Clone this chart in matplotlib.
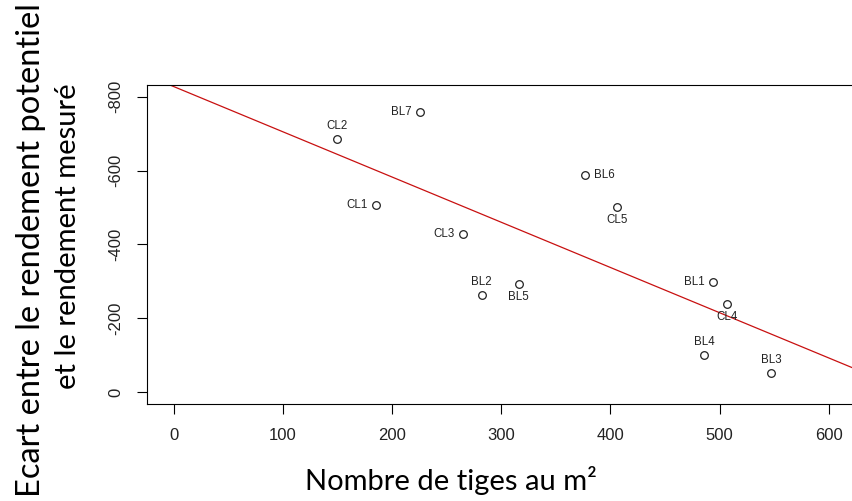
import numpy as np
import matplotlib
matplotlib.use("Agg")
import matplotlib.pyplot as plt

# values
labels = ["CL2", "BL7", "CL1", "CL3", "BL2", "BL5", "BL1", "CL4", "BL4", "BL3", "BL6", "CL5"]
tiges = [150, 226, 185, 265, 282, 316, 494, 507, 486, 547, 377, 406]
ecart = [-685, -760, -507, -428, -263, -292, -299, -237, -101, -52, -589, -502]
# side of each label (R text pos: 1 below, 2 left, 3 above, 4 right)
label_pos = [3, 2, 2, 2, 3, 1, 2, 1, 3, 3, 4, 1]
# fitted line (abline)
intercept = -828
slope = 1.227

xticks = [0, 100, 200, 300, 400, 500, 600]
yticks = [0, -200, -400, -600, -800]

fig = plt.figure(figsize=(8.52, 5.01), dpi=100)
ax = fig.add_axes([147.3 / 852, 1 - 403.7 / 501, (855.2 - 147.3) / 852, (403.7 - 85) / 501])

ax.plot(tiges, ecart, 'o', mfc='none', mec='#222222', ms=5.5, mew=0.9)

xx = np.array([-30, 630])
ax.plot(xx, intercept + slope * xx, color='#c81010', lw=0.9)

offs = {1: (0, -5, 'center', 'top'), 2: (-6, 0, 'right', 'center'),
        3: (0, 5, 'center', 'bottom'), 4: (6, 0, 'left', 'center')}
for lab, x, y, p in zip(labels, tiges, ecart, label_pos):
    dx, dy, ha, va = offs[p]
    ax.annotate(lab, (x, y), xytext=(dx, dy), textcoords='offset points',
                ha=ha, va=va, fontsize=8.3, family='Liberation Sans', color='#222222')

ax.set_xlim(-24, 624)
ax.set_ylim(32, -832)
ax.set_xticks(xticks)
ax.set_yticks(yticks)
ax.set_yticklabels([str(v) for v in yticks], rotation=90, va='center')
ax.tick_params(direction='out', length=7.2, width=0.8, pad=10, labelsize=12,
               labelcolor='#222222')
for lab in ax.get_xticklabels() + ax.get_yticklabels():
    lab.set_family('Liberation Sans')
for s in ax.spines.values():
    s.set_linewidth(0.8)

fig.text(0.036, 0.501, "Ecart entre le rendement potentiel", rotation=90,
         ha='center', va='center', fontsize=23.5, family='Lato', color='black')
fig.text(0.08, 0.528, "et le rendement mesuré", rotation=90,
         ha='center', va='center', fontsize=21, family='Lato', color='black')
fig.text(0.529, 0.04, "Nombre de tiges au m²", ha='center', va='center',
         fontsize=21, family='Lato', color='black')

fig.savefig("out.png", dpi=100)
